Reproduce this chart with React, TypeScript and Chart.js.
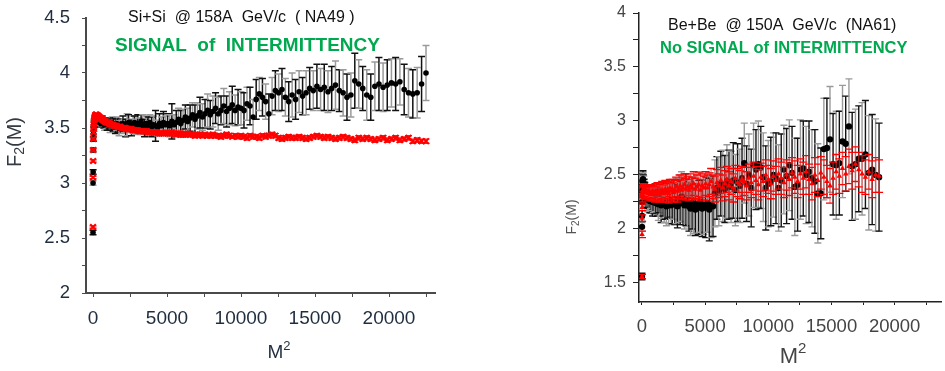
import React, { useEffect, useRef } from 'react';
import { Chart, registerables } from 'chart.js';
Chart.register(...registerables);

// ---------- tick definitions ----------
const X_TICKS = [0, 2500, 5000, 7500, 10000, 12500, 15000, 17500, 20000, 22500];
const X_TICK_LABELS = ['0', '', '5000', '', '10000', '', '15000', '', '20000', ''];
const LEFT_Y_TICKS = [2, 2.25, 2.5, 2.75, 3, 3.25, 3.5, 3.75, 4, 4.25, 4.5];
const LEFT_Y_LABELS = ['2', '', '2.5', '', '3', '', '3.5', '', '4', '', '4.5'];
const RIGHT_Y_TICKS = [1.5, 1.75, 2, 2.25, 2.5, 2.75, 3, 3.25, 3.5, 3.75, 4];
const RIGHT_Y_LABELS = ['1.5', '', '2', '', '2.5', '', '3', '', '3.5', '', '4'];

// ---------- texts ----------
const LEFT_TITLE = 'Si+Si  @ 158A  GeV/c  ( NA49 )';
const LEFT_SUBTITLE = 'SIGNAL  of  INTERMITTENCY';
const RIGHT_TITLE = 'Be+Be  @ 150A  GeV/c  (NA61)';
const RIGHT_SUBTITLE = 'No SIGNAL of INTERMITTENCY';

// ---------- data: F2(M) for M = 1, 2, 3, ... (plotted at x = M^2) ----------
// Si+Si (NA49) data
const LEFT_BLACK = [
  2.55, 3.00, 3.10, 3.30, 3.40, 3.45, 3.49, 3.52, 3.54, 3.55,
  3.56, 3.55, 3.57, 3.56, 3.55, 3.56, 3.57, 3.56, 3.55, 3.56,
  3.55, 3.56, 3.54, 3.55, 3.56, 3.55, 3.54, 3.53, 3.55, 3.54,
  3.53, 3.55, 3.54, 3.52, 3.53, 3.55, 3.53, 3.51, 3.52, 3.54,
  3.52, 3.50, 3.53, 3.51, 3.54, 3.52, 3.50, 3.53, 3.55, 3.52,
  3.50, 3.53, 3.55, 3.51, 3.54, 3.52, 3.56, 3.53, 3.50, 3.54,
  3.52, 3.55, 3.51, 3.53, 3.52, 3.50, 3.54, 3.52, 3.55, 3.53,
  3.54, 3.52, 3.56, 3.53, 3.55, 3.58, 3.54, 3.57, 3.60, 3.56,
  3.59, 3.62, 3.58, 3.61, 3.64, 3.60, 3.63, 3.66, 3.62, 3.65,
  3.68, 3.63, 3.66, 3.70, 3.65, 3.68, 3.71, 3.66, 3.69, 3.68,
  3.66, 3.72, 3.70, 3.60, 3.76, 3.81, 3.78, 3.74, 3.63, 3.79,
  3.84, 3.82, 3.85, 3.78, 3.74, 3.80, 3.76, 3.83, 3.79, 3.82,
  3.86, 3.84, 3.88, 3.85, 3.87, 3.83, 3.86, 3.89, 3.84, 3.82,
  3.78, 3.80, 3.93, 3.90, 3.86, 3.80, 3.78, 3.88, 3.90, 3.87,
  3.89, 3.91, 3.90, 3.92, 3.85, 3.82, 3.81, 3.82, 3.90, 4.00,
];
const LEFT_BLACK_ERR = [
  0.02, 0.02, 0.02, 0.02, 0.02, 0.02, 0.02, 0.03, 0.03, 0.03,
  0.03, 0.03, 0.03, 0.03, 0.03, 0.04, 0.03, 0.04, 0.04, 0.03,
  0.04, 0.04, 0.03, 0.04, 0.05, 0.04, 0.04, 0.05, 0.04, 0.05,
  0.05, 0.04, 0.05, 0.06, 0.05, 0.05, 0.06, 0.05, 0.07, 0.06,
  0.06, 0.07, 0.05, 0.06, 0.07, 0.06, 0.08, 0.10, 0.07, 0.06,
  0.07, 0.08, 0.06, 0.07, 0.08, 0.07, 0.06, 0.09, 0.08, 0.07,
  0.08, 0.07, 0.09, 0.08, 0.14, 0.07, 0.09, 0.08, 0.10, 0.08,
  0.09, 0.10, 0.16, 0.09, 0.11, 0.10, 0.12, 0.10, 0.11, 0.12,
  0.12, 0.11, 0.13, 0.12, 0.14, 0.12, 0.13, 0.15, 0.13, 0.14,
  0.14, 0.15, 0.13, 0.16, 0.14, 0.15, 0.17, 0.14, 0.16, 0.15,
  0.16, 0.15, 0.17, 0.16, 0.18, 0.15, 0.17, 0.16, 0.18, 0.17,
  0.18, 0.17, 0.19, 0.17, 0.18, 0.20, 0.18, 0.19, 0.17, 0.20,
  0.19, 0.18, 0.20, 0.19, 0.21, 0.19, 0.20, 0.22, 0.19, 0.21,
  0.21, 0.20, 0.25, 0.22, 0.20, 0.23, 0.21, 0.22, 0.24, 0.22,
  0.23, 0.22, 0.24, 0.21, 0.23, 0.22, 0.22, 0.23, 0.25, 0.25,
];
// Si+Si reference (red)
const LEFT_RED = [
  2.60, 3.05, 3.20, 3.30, 3.40, 3.46, 3.51, 3.54, 3.57, 3.59,
  3.60, 3.61, 3.62, 3.62, 3.62, 3.62, 3.61, 3.61, 3.61, 3.60,
  3.60, 3.59, 3.59, 3.58, 3.58, 3.57, 3.57, 3.56, 3.56, 3.55,
  3.55, 3.55, 3.54, 3.54, 3.53, 3.53, 3.53, 3.52, 3.52, 3.52,
  3.51, 3.51, 3.51, 3.50, 3.50, 3.50, 3.50, 3.49, 3.49, 3.49,
  3.49, 3.48, 3.48, 3.48, 3.48, 3.47, 3.47, 3.47, 3.47, 3.47,
  3.46, 3.46, 3.46, 3.46, 3.46, 3.46, 3.45, 3.45, 3.45, 3.46,
  3.45, 3.45, 3.46, 3.45, 3.44, 3.45, 3.45, 3.44, 3.44, 3.45,
  3.44, 3.44, 3.43, 3.44, 3.44, 3.43, 3.44, 3.43, 3.43, 3.44,
  3.43, 3.43, 3.42, 3.43, 3.44, 3.43, 3.42, 3.43, 3.42, 3.43,
  3.42, 3.41, 3.43, 3.42, 3.42, 3.41, 3.43, 3.42, 3.43, 3.44,
  3.43, 3.41, 3.40, 3.41, 3.42, 3.41, 3.41, 3.42, 3.41, 3.40,
  3.41, 3.42, 3.43, 3.42, 3.41, 3.42, 3.41, 3.40, 3.41, 3.42,
  3.41, 3.40, 3.39, 3.41, 3.40, 3.41, 3.40, 3.39, 3.40, 3.41,
  3.39, 3.40, 3.41, 3.39, 3.40, 3.41, 3.38, 3.39, 3.38, 3.38,
];
const LEFT_RED_ERR = [
  0.01, 0.01, 0.01, 0.01, 0.01, 0.01, 0.01, 0.01, 0.01, 0.01,
  0.01, 0.01, 0.01, 0.01, 0.01, 0.01, 0.01, 0.01, 0.01, 0.01,
  0.01, 0.01, 0.01, 0.01, 0.01, 0.01, 0.01, 0.01, 0.01, 0.01,
  0.01, 0.01, 0.01, 0.01, 0.01, 0.01, 0.01, 0.01, 0.01, 0.01,
  0.01, 0.01, 0.01, 0.01, 0.01, 0.01, 0.01, 0.01, 0.01, 0.01,
  0.01, 0.01, 0.02, 0.01, 0.01, 0.02, 0.01, 0.02, 0.01, 0.02,
  0.01, 0.02, 0.01, 0.02, 0.02, 0.01, 0.02, 0.02, 0.01, 0.02,
  0.02, 0.02, 0.01, 0.02, 0.02, 0.02, 0.01, 0.02, 0.02, 0.02,
  0.02, 0.01, 0.02, 0.02, 0.02, 0.02, 0.02, 0.01, 0.02, 0.02,
  0.02, 0.02, 0.02, 0.02, 0.02, 0.02, 0.01, 0.02, 0.02, 0.02,
  0.02, 0.02, 0.02, 0.02, 0.02, 0.02, 0.02, 0.02, 0.02, 0.02,
  0.02, 0.02, 0.02, 0.02, 0.02, 0.02, 0.02, 0.02, 0.02, 0.02,
  0.02, 0.02, 0.02, 0.02, 0.02, 0.02, 0.02, 0.02, 0.02, 0.02,
  0.02, 0.02, 0.02, 0.02, 0.02, 0.02, 0.02, 0.02, 0.02, 0.02,
  0.02, 0.02, 0.02, 0.02, 0.02, 0.02, 0.02, 0.02, 0.02, 0.02,
];
// Be+Be (NA61) data
const RIGHT_BLACK = [
  1.56, 2.02, 2.12, 2.25, 2.35, 2.40, 2.44, 2.45, 2.46, 2.44,
  2.42, 2.40, 2.38, 2.35, 2.33, 2.31, 2.30, 2.29, 2.30, 2.28,
  2.29, 2.27, 2.30, 2.28, 2.26, 2.29, 2.27, 2.28, 2.25, 2.27,
  2.26, 2.29, 2.24, 2.27, 2.25, 2.23, 2.28, 2.26, 2.22, 2.25,
  2.27, 2.23, 2.25, 2.21, 2.26, 2.24, 2.28, 2.22, 2.25, 2.27,
  2.23, 2.26, 2.21, 2.28, 2.24, 2.30, 2.25, 2.22, 2.27, 2.24,
  2.21, 2.19, 2.24, 2.22, 2.18, 2.23, 2.20, 2.25, 2.19, 2.22,
  2.20, 2.24, 2.18, 2.22, 2.21, 2.33, 2.38, 2.35, 2.42, 2.40,
  2.37, 2.44, 2.41, 2.39, 2.45, 2.36, 2.43, 2.40, 2.47, 2.61,
  2.42, 2.50, 2.38, 2.59, 2.55, 2.60, 2.57, 2.48, 2.38, 2.42,
  2.44, 2.50, 2.47, 2.38, 2.45, 2.55, 2.49, 2.59, 2.52, 2.39,
  2.41, 2.55, 2.56, 2.50, 2.53, 2.47, 2.44, 2.33, 2.33, 2.74,
  2.75, 2.83, 2.60, 2.59, 2.61, 2.81, 2.79, 2.95, 2.58, 2.60,
  2.65, 2.65, 2.69, 2.52, 2.55, 2.50, 2.48,
];
const RIGHT_BLACK_ERR = [
  0.03, 0.04, 0.05, 0.05, 0.06, 0.07, 0.07, 0.08, 0.08, 0.08,
  0.08, 0.09, 0.08, 0.09, 0.10, 0.09, 0.10, 0.09, 0.10, 0.11,
  0.10, 0.11, 0.10, 0.12, 0.11, 0.10, 0.12, 0.11, 0.13, 0.12,
  0.12, 0.13, 0.12, 0.14, 0.13, 0.15, 0.13, 0.14, 0.16, 0.15,
  0.15, 0.17, 0.16, 0.18, 0.16, 0.19, 0.17, 0.18, 0.20, 0.18,
  0.19, 0.21, 0.20, 0.22, 0.20, 0.23, 0.21, 0.22, 0.24, 0.22,
  0.23, 0.25, 0.24, 0.26, 0.24, 0.27, 0.25, 0.28, 0.26, 0.27,
  0.28, 0.27, 0.29, 0.30, 0.28, 0.31, 0.29, 0.32, 0.30, 0.33,
  0.31, 0.34, 0.32, 0.33, 0.35, 0.33, 0.36, 0.34, 0.37, 0.37,
  0.35, 0.38, 0.36, 0.39, 0.37, 0.40, 0.38, 0.41, 0.39, 0.40,
  0.41, 0.39, 0.42, 0.40, 0.43, 0.41, 0.44, 0.42, 0.43, 0.45,
  0.43, 0.46, 0.44, 0.45, 0.47, 0.45, 0.48, 0.46, 0.42, 0.47,
  0.46, 0.49, 0.47, 0.50, 0.48, 0.52, 0.44, 0.44, 0.50, 0.51,
  0.49, 0.52, 0.50, 0.53, 0.51, 0.52, 0.50,
];
// Be+Be reference (red)
const RIGHT_RED = [
  1.56, 1.95, 2.10, 2.20, 2.28, 2.32, 2.34, 2.35, 2.36, 2.36,
  2.37, 2.36, 2.37, 2.36, 2.35, 2.36, 2.35, 2.34, 2.35, 2.34,
  2.34, 2.33, 2.35, 2.33, 2.34, 2.32, 2.34, 2.33, 2.35, 2.33,
  2.34, 2.32, 2.35, 2.33, 2.36, 2.34, 2.32, 2.35, 2.34, 2.36,
  2.33, 2.35, 2.37, 2.34, 2.36, 2.33, 2.38, 2.35, 2.37, 2.34,
  2.36, 2.39, 2.35, 2.37, 2.40, 2.36, 2.38, 2.41, 2.37, 2.39,
  2.36, 2.40, 2.38, 2.42, 2.37, 2.39, 2.41, 2.36, 2.40, 2.38,
  2.42, 2.38, 2.41, 2.44, 2.39, 2.37, 2.43, 2.40, 2.45, 2.38,
  2.42, 2.46, 2.40, 2.44, 2.38, 2.47, 2.43, 2.41, 2.46, 2.44,
  2.40, 2.47, 2.43, 2.49, 2.45, 2.41, 2.48, 2.44, 2.50, 2.46,
  2.42, 2.49, 2.45, 2.51, 2.47, 2.43, 2.50, 2.46, 2.52, 2.48,
  2.44, 2.51, 2.47, 2.53, 2.46, 2.42, 2.50, 2.45, 2.52, 2.48,
  2.44, 2.40, 2.47, 2.53, 2.49, 2.56, 2.51, 2.58, 2.54, 2.60,
  2.55, 2.51, 2.48, 2.53, 2.46, 2.50, 2.49,
];
const RIGHT_RED_ERR = [
  0.02, 0.03, 0.03, 0.03, 0.03, 0.03, 0.04, 0.04, 0.04, 0.04,
  0.04, 0.04, 0.05, 0.04, 0.05, 0.05, 0.05, 0.05, 0.05, 0.06,
  0.05, 0.06, 0.05, 0.06, 0.06, 0.06, 0.06, 0.07, 0.06, 0.07,
  0.06, 0.07, 0.07, 0.07, 0.07, 0.08, 0.07, 0.08, 0.07, 0.08,
  0.08, 0.08, 0.08, 0.09, 0.08, 0.09, 0.08, 0.09, 0.09, 0.09,
  0.09, 0.09, 0.10, 0.09, 0.10, 0.09, 0.10, 0.10, 0.10, 0.10,
  0.10, 0.11, 0.10, 0.11, 0.10, 0.11, 0.11, 0.10, 0.11, 0.11,
  0.11, 0.12, 0.11, 0.12, 0.11, 0.12, 0.12, 0.11, 0.12, 0.12,
  0.12, 0.12, 0.13, 0.12, 0.13, 0.12, 0.13, 0.13, 0.12, 0.13,
  0.13, 0.13, 0.14, 0.13, 0.13, 0.14, 0.13, 0.14, 0.14, 0.13,
  0.14, 0.14, 0.13, 0.14, 0.15, 0.14, 0.14, 0.15, 0.14, 0.15,
  0.15, 0.14, 0.15, 0.15, 0.14, 0.15, 0.16, 0.15, 0.15, 0.16,
  0.15, 0.16, 0.15, 0.16, 0.16, 0.15, 0.16, 0.16, 0.17, 0.16,
  0.16, 0.17, 0.16, 0.16, 0.17, 0.16, 0.15,
];

const FONT = '"Liberation Sans", Arial, Helvetica, sans-serif';
const GREEN = '#00a84f';

// x = M^2 where M is the bin index (1-based)
const toPoints = (vals: number[]) => vals.map((y, i) => ({ x: (i + 1) * (i + 1), y }));

const errorBarPlugin = {
  id: 'errorBars',
  beforeDatasetDraw(chart: any, args: any) {
    const ds: any = chart.data.datasets[args.index];
    const errs: number[] = ds.errors;
    if (!errs) return;
    const ys = chart.scales.y;
    const { ctx, chartArea } = chart;
    ctx.save();
    ctx.beginPath();
    ctx.rect(chartArea.left, chartArea.top, chartArea.right - chartArea.left, chartArea.bottom - chartArea.top);
    ctx.clip();
    ctx.lineWidth = ds.errWidth || 1;
    const cap = ds.capHalf || 3;
    args.meta.data.forEach((el: any, i: number) => {
      const p = ds.data[i];
      const e = errs[i];
      const yt = ys.getPixelForValue(p.y + e);
      const yb = ys.getPixelForValue(p.y - e);
      const x = el.x;
      ctx.strokeStyle = ds.errColors[i % ds.errColors.length];
      ctx.beginPath();
      ctx.moveTo(x, yt);
      ctx.lineTo(x, yb);
      ctx.stroke();
      ctx.strokeStyle = ds.capColors ? ds.capColors[i % ds.capColors.length] : ds.errColors[i % ds.errColors.length];
      ctx.beginPath();
      ctx.moveTo(x - cap, yt);
      ctx.lineTo(x + cap, yt);
      ctx.moveTo(x - cap, yb);
      ctx.lineTo(x + cap, yb);
      ctx.stroke();
    });
    ctx.restore();
  },
};

type TextItem = {
  parts: { text: string; font: string; dy?: number }[];
  x: number;
  y: number;
  color: string;
  align?: 'left' | 'center';
  rotate?: number;
};

const makeTextPlugin = (items: TextItem[]) => ({
  id: 'panelText',
  afterDraw(chart: any) {
    const ctx = chart.ctx;
    items.forEach((t) => {
      ctx.save();
      ctx.fillStyle = t.color;
      ctx.textBaseline = 'middle';
      ctx.textAlign = 'left';
      ctx.translate(t.x, t.y);
      if (t.rotate) ctx.rotate(t.rotate);
      let total = 0;
      t.parts.forEach((p) => {
        ctx.font = p.font;
        total += ctx.measureText(p.text).width;
      });
      let cx = t.align === 'center' ? -total / 2 : 0;
      t.parts.forEach((p) => {
        ctx.font = p.font;
        ctx.fillText(p.text, cx, p.dy || 0);
        cx += ctx.measureText(p.text).width;
      });
      ctx.restore();
    });
  },
});

type PanelCfg = {
  width: number;
  height: number;
  area: { left: number; top: number; right: number; bottom: number };
  xMin: number;
  xMax: number;
  yMin: number;
  yMax: number;
  yTicks: number[];
  yLabels: string[];
  tickColor: string;
  yFont: number;
  xFont: number;
  yPad: number;
  xPad: number;
  yTickLen: number;
  xTickLen: number;
  axisColor: string;
  axisWidth: number;
  datasets: any[];
  texts: TextItem[];
};

function buildConfig(c: PanelCfg): any {
  return {
    type: 'scatter',
    data: { datasets: c.datasets },
    options: {
      responsive: false,
      animation: false,
      events: [],
      layout: {
        padding: { left: 0, top: c.area.top, right: c.width - c.area.right, bottom: 0 },
      },
      plugins: { legend: { display: false }, tooltip: { enabled: false } },
      scales: {
        x: {
          type: 'linear',
          min: c.xMin,
          max: c.xMax,
          bounds: 'data',
          afterBuildTicks: (s: any) => {
            s.ticks = X_TICKS.map((v) => ({ value: v }));
          },
          afterFit: (s: any) => {
            s.height = c.height - c.area.bottom;
            s.paddingLeft = 0;
            s.paddingRight = 0;
          },
          ticks: {
            callback: (_v: any, i: number) => X_TICK_LABELS[i],
            autoSkip: false,
            maxRotation: 0,
            padding: c.xPad,
            color: c.tickColor,
            font: { family: FONT, size: c.xFont },
          },
          grid: { drawOnChartArea: false, drawTicks: true, tickLength: c.xTickLen, tickColor: c.axisColor, tickWidth: 1 },
          border: { display: true, color: c.axisColor, width: c.axisWidth },
        },
        y: {
          type: 'linear',
          min: c.yMin,
          max: c.yMax,
          bounds: 'data',
          afterBuildTicks: (s: any) => {
            s.ticks = c.yTicks.map((v) => ({ value: v }));
          },
          afterFit: (s: any) => {
            s.width = c.area.left;
            s.paddingTop = 0;
            s.paddingBottom = 0;
          },
          ticks: {
            callback: (_v: any, i: number) => c.yLabels[i],
            autoSkip: false,
            padding: c.yPad,
            color: c.tickColor,
            font: { family: FONT, size: c.yFont },
          },
          grid: { drawOnChartArea: false, drawTicks: true, tickLength: c.yTickLen, tickColor: c.axisColor, tickWidth: 1 },
          border: { display: true, color: c.axisColor, width: c.axisWidth },
        },
      },
    },
    plugins: [errorBarPlugin, makeTextPlugin(c.texts)],
  };
}

const leftCfg: PanelCfg = {
  width: 470,
  height: 371,
  area: { left: 86, top: 18, right: 435, bottom: 293 },
  xMin: -473,
  xMax: 23108,
  yMin: 2,
  yMax: 4.5,
  yTicks: LEFT_Y_TICKS,
  yLabels: LEFT_Y_LABELS,
  tickColor: '#1f2d3f',
  yFont: 18.5,
  xFont: 19,
  yPad: 12,
  xPad: 10,
  yTickLen: 4,
  xTickLen: 4,
  axisColor: '#4a4a4a',
  axisWidth: 2,
  datasets: [
    {
      label: 'Si+Si reference',
      data: toPoints(LEFT_RED),
      errors: LEFT_RED_ERR,
      errColors: ['#ff2020'],
      errWidth: 1.2,
      capHalf: 3.5,
      pointStyle: 'crossRot',
      pointRadius: 4,
      pointBorderWidth: 2,
      borderColor: '#ff0000',
      backgroundColor: '#ff0000',
      showLine: false,
    },
    {
      label: 'Si+Si NA49',
      data: toPoints(LEFT_BLACK),
      errors: LEFT_BLACK_ERR,
      errColors: ['#111111', '#9a9a9a'],
      errWidth: 1.5,
      capHalf: 3.5,
      pointStyle: 'circle',
      pointRadius: 2.8,
      pointBorderWidth: 0,
      borderColor: '#000000',
      backgroundColor: '#000000',
      showLine: false,
    },
  ],
  texts: [
    { parts: [{ text: LEFT_TITLE, font: `16px ${FONT}` }], x: 128, y: 18, color: '#111' },
    { parts: [{ text: LEFT_SUBTITLE, font: `bold 19px ${FONT}` }], x: 115, y: 46, color: GREEN },
    {
      parts: [
        { text: 'F', font: `20px ${FONT}` },
        { text: '2', font: `14px ${FONT}`, dy: 5 },
        { text: '(M)', font: `20px ${FONT}` },
      ],
      x: 15,
      y: 142,
      color: '#333a44',
      align: 'center',
      rotate: -Math.PI / 2,
    },
    {
      parts: [
        { text: 'M', font: `19px ${FONT}` },
        { text: '2', font: `13px ${FONT}`, dy: -7 },
      ],
      x: 279,
      y: 353,
      color: '#1f2d3f',
      align: 'center',
    },
  ],
};

const rightCfg: PanelCfg = {
  width: 475,
  height: 371,
  area: { left: 169, top: 13, right: 475, bottom: 302 },
  xMin: -234,
  xMax: 23672,
  yMin: 1.324,
  yMax: 4,
  yTicks: RIGHT_Y_TICKS,
  yLabels: RIGHT_Y_LABELS,
  tickColor: '#444444',
  yFont: 16,
  xFont: 18.5,
  yPad: 7,
  xPad: 11,
  yTickLen: 6,
  xTickLen: 3,
  axisColor: '#222222',
  axisWidth: 1.5,
  datasets: [
    {
      label: 'Be+Be reference',
      data: toPoints(RIGHT_RED),
      errors: RIGHT_RED_ERR,
      errColors: ['rgba(255,60,60,0.6)'],
      capColors: ['#ff0000'],
      errWidth: 1.3,
      capHalf: 4,
      pointStyle: 'triangle',
      pointRadius: 3.2,
      pointBorderWidth: 0,
      borderColor: '#ff0000',
      backgroundColor: '#ff0000',
      showLine: false,
    },
    {
      label: 'Be+Be NA61',
      data: toPoints(RIGHT_BLACK),
      errors: RIGHT_BLACK_ERR,
      errColors: ['#111111', '#9a9a9a'],
      errWidth: 1.4,
      capHalf: 3.5,
      pointStyle: 'circle',
      pointRadius: 3.2,
      pointBorderWidth: 0,
      borderColor: '#000000',
      backgroundColor: '#000000',
      showLine: false,
    },
  ],
  texts: [
    { parts: [{ text: RIGHT_TITLE, font: `16px ${FONT}` }], x: 198, y: 26, color: '#111' },
    { parts: [{ text: RIGHT_SUBTITLE, font: `bold 16.5px ${FONT}` }], x: 190, y: 48, color: GREEN },
    {
      parts: [
        { text: 'F', font: `14px ${FONT}` },
        { text: '2', font: `10px ${FONT}`, dy: 4 },
        { text: '(M)', font: `14px ${FONT}` },
      ],
      x: 102,
      y: 217,
      color: '#555',
      align: 'center',
      rotate: -Math.PI / 2,
    },
    {
      parts: [
        { text: 'M', font: `22px ${FONT}` },
        { text: '2', font: `15px ${FONT}`, dy: -8 },
      ],
      x: 323,
      y: 357,
      color: '#444',
      align: 'center',
    },
  ],
};

function Panel({ cfg, left }: { cfg: PanelCfg; left: number }) {
  const ref = useRef<HTMLCanvasElement | null>(null);
  useEffect(() => {
    if (!ref.current) return;
    const chart = new Chart(ref.current, buildConfig(cfg));
    return () => chart.destroy();
  }, [cfg]);
  return (
    <canvas
      ref={ref}
      width={cfg.width}
      height={cfg.height}
      style={{ position: 'absolute', left, top: 0, width: cfg.width, height: cfg.height }}
    />
  );
}

export default function App() {
  return (
    <div style={{ position: 'absolute', left: 0, top: 0, width: 945, height: 371, background: '#ffffff', overflow: 'hidden' }}>
      <Panel cfg={leftCfg} left={0} />
      <Panel cfg={rightCfg} left={470} />
    </div>
  );
}
